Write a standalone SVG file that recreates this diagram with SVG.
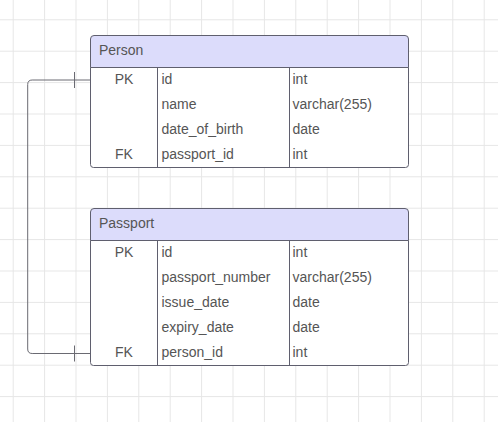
<svg xmlns="http://www.w3.org/2000/svg" width="498" height="422" viewBox="0 0 498 422">
<defs>
<pattern id="grid" x="12.7" y="19.3" width="31.4" height="31.4" patternUnits="userSpaceOnUse">
<path d="M0.5 0V31.4M0 0.5H31.4" fill="none" stroke="#e6e6e6" stroke-width="1"/>
</pattern>
</defs>
<style>
.box{fill:#ffffff;stroke:#5f5f6e;stroke-width:1}
.hdr{fill:#dcdcfb;stroke:#5f5f6e;stroke-width:1}
.div{stroke:#5f5f6e;stroke-width:1}
.t{font-family:"Liberation Sans",Arial,sans-serif;font-size:14px;fill:#555555}
.k{text-anchor:middle}
.conn{fill:none;stroke:#6a6a72;stroke-width:1}
</style>
<rect width="498" height="422" fill="#ffffff"/>
<rect width="498" height="422" fill="url(#grid)"/>
<g id="connectors">
<path class="conn" d="M90.5 80H32.2Q27.7 80 27.7 84.5V349Q27.7 353.5 32.2 353.5H90.5"/>
<path class="conn" d="M74.5 72V88M74.5 345.5V361.5"/>
</g>
<g id="person">
<path class="hdr" d="M94 35.5H405Q408.5 35.5 408.5 39V67.5H90.5V39Q90.5 35.5 94 35.5Z"/>
<path class="box" d="M90.5 67.5H408.5V164.5Q408.5 167.5 405.5 167.5H93.5Q90.5 167.5 90.5 164.5Z"/>
<path class="div" d="M157.5 67.5V167.5M289.5 67.5V167.5"/>
<text class="t" x="99" y="55">Person</text>
<text class="t k" x="124" y="84">PK</text>
<text class="t" x="161.5" y="84">id</text>
<text class="t" x="292.5" y="84">int</text>
<text class="t" x="161.5" y="109">name</text>
<text class="t" x="292.5" y="109">varchar(255)</text>
<text class="t" x="161.5" y="134">date_of_birth</text>
<text class="t" x="292.5" y="134">date</text>
<text class="t k" x="124" y="159">FK</text>
<text class="t" x="161.5" y="159">passport_id</text>
<text class="t" x="292.5" y="159">int</text>
</g>
<g id="passport">
<path class="hdr" d="M94 208.5H405Q408.5 208.5 408.5 212V240.5H90.5V212Q90.5 208.5 94 208.5Z"/>
<path class="box" d="M90.5 240.5H408.5V362.5Q408.5 365.5 405.5 365.5H93.5Q90.5 365.5 90.5 362.5Z"/>
<path class="div" d="M157.5 240.5V365.5M289.5 240.5V365.5"/>
<text class="t" x="99" y="228">Passport</text>
<text class="t k" x="124" y="256.6">PK</text>
<text class="t" x="161.5" y="256.6">id</text>
<text class="t" x="292.5" y="256.6">int</text>
<text class="t" x="161.5" y="281.7">passport_number</text>
<text class="t" x="292.5" y="281.7">varchar(255)</text>
<text class="t" x="161.5" y="306.8">issue_date</text>
<text class="t" x="292.5" y="306.8">date</text>
<text class="t" x="161.5" y="331.9">expiry_date</text>
<text class="t" x="292.5" y="331.9">date</text>
<text class="t k" x="124" y="357">FK</text>
<text class="t" x="161.5" y="357">person_id</text>
<text class="t" x="292.5" y="357">int</text>
</g>
</svg>
